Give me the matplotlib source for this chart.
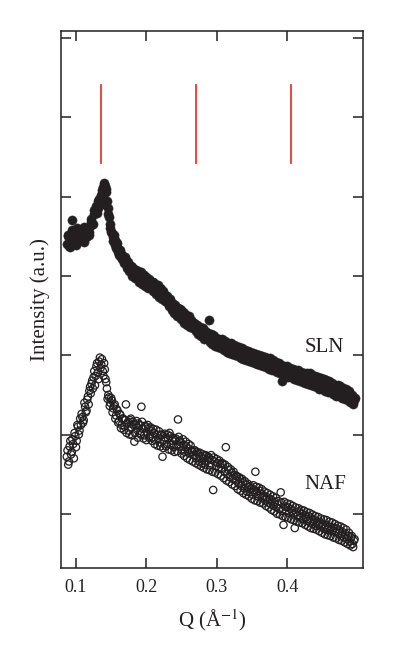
import numpy as np
import matplotlib
matplotlib.use("Agg")
import matplotlib.pyplot as plt

plt.rcParams['font.family'] = ['Liberation Serif', 'DejaVu Serif']
plt.rcParams['mathtext.fontset'] = 'stix'

# Q grid of the measurement (1/Angstrom); the second pass sits half a step over
q_start, q_step, n_points = 0.087, 0.002, 205
q = q_start + q_step * np.arange(n_points)
q_b = q + q_step / 2

# SLN intensity (filled circles)
sln = [
    4.40, 4.50, 4.36, 4.48, 4.70, 4.47, 4.55, 4.44, 4.52, 4.49,
    4.47, 4.55, 4.43, 4.53, 4.50, 4.60, 4.56, 4.68, 4.66, 4.78,
    4.79, 4.88, 4.86, 4.97, 4.94, 5.08, 5.12, 5.14, 5.06, 4.86,
    4.74, 4.60, 4.54, 4.44, 4.45, 4.35, 4.36, 4.27, 4.30, 4.22,
    4.23, 4.17, 4.20, 4.12, 4.14, 4.07, 4.11, 4.02, 4.08, 4.03,
    3.98, 4.04, 3.95, 4.00, 3.93, 3.97, 3.88, 3.95, 3.90, 3.93,
    3.86, 3.92, 3.85, 3.88, 3.80, 3.84, 3.76, 3.83, 3.78, 3.74,
    3.76, 3.70, 3.66, 3.71, 3.62, 3.66, 3.59, 3.63, 3.56, 3.60,
    3.52, 3.57, 3.48, 3.53, 3.45, 3.48, 3.42, 3.46, 3.38, 3.42,
    3.35, 3.40, 3.33, 3.36, 3.30, 3.33, 3.27, 3.31, 3.25, 3.29,
    3.22, 3.45, 3.24, 3.19, 3.25, 3.18, 3.22, 3.15, 3.20, 3.16,
    3.17, 3.12, 3.16, 3.09, 3.14, 3.10, 3.12, 3.06, 3.11, 3.07,
    3.09, 3.04, 3.08, 3.02, 3.06, 3.00, 3.05, 3.01, 3.03, 2.98,
    3.02, 2.97, 3.01, 2.95, 2.99, 2.94, 2.98, 2.93, 2.97, 2.94,
    2.96, 2.91, 2.95, 2.89, 2.93, 2.87, 2.91, 2.86, 2.90, 2.85,
    2.87, 2.82, 2.85, 2.67, 2.84, 2.79, 2.83, 2.78, 2.82, 2.77,
    2.80, 2.76, 2.79, 2.74, 2.78, 2.73, 2.77, 2.72, 2.76, 2.71,
    2.75, 2.70, 2.74, 2.68, 2.72, 2.67, 2.71, 2.65, 2.70, 2.64,
    2.68, 2.63, 2.67, 2.60, 2.65, 2.59, 2.64, 2.58, 2.62, 2.57,
    2.60, 2.55, 2.59, 2.53, 2.57, 2.51, 2.56, 2.50, 2.54, 2.49,
    2.52, 2.47, 2.49, 2.44, 2.43,
]
sln_b = [
    4.52, 4.38, 4.46, 4.58, 4.42, 4.53, 4.39, 4.60, 4.45, 4.56,
    4.58, 4.44, 4.62, 4.49, 4.57, 4.52, 4.63, 4.72, 4.65, 4.83,
    4.84, 4.80, 4.95, 4.90, 5.02, 5.04, 5.17, 5.10, 4.95, 4.78,
    4.66, 4.55, 4.49, 4.52, 4.39, 4.41, 4.30, 4.33, 4.24, 4.27,
    4.16, 4.24, 4.10, 4.18, 4.06, 4.13, 4.00, 4.09, 3.98, 4.07,
    4.06, 3.93, 4.05, 3.90, 4.01, 3.87, 3.99, 3.85, 3.96, 3.86,
    3.93, 3.81, 3.90, 3.77, 3.88, 3.73, 3.85, 3.71, 3.81, 3.68,
    3.68, 3.75, 3.62, 3.69, 3.57, 3.65, 3.53, 3.60, 3.50, 3.58,
    3.58, 3.46, 3.55, 3.41, 3.51, 3.38, 3.49, 3.35, 3.45, 3.34,
    3.41, 3.30, 3.38, 3.27, 3.36, 3.24, 3.34, 3.21, 3.31, 3.20,
    3.28, 3.17, 3.27, 3.14, 3.24, 3.12, 3.21, 3.11, 3.19, 3.09,
    3.20, 3.07, 3.18, 3.04, 3.16, 3.03, 3.15, 3.02, 3.13, 3.00,
    3.12, 2.99, 3.10, 2.97, 3.09, 2.95, 3.07, 2.94, 3.05, 2.93,
    3.04, 2.91, 3.03, 2.90, 3.02, 2.89, 3.00, 2.88, 2.99, 2.87,
    2.98, 2.85, 2.97, 2.83, 2.96, 2.82, 2.94, 2.81, 2.92, 2.79,
    2.90, 2.77, 2.88, 2.76, 2.87, 2.74, 2.86, 2.73, 2.84, 2.72,
    2.83, 2.70, 2.82, 2.69, 2.81, 2.67, 2.79, 2.66, 2.78, 2.65,
    2.78, 2.64, 2.77, 2.62, 2.75, 2.61, 2.74, 2.60, 2.72, 2.58,
    2.71, 2.57, 2.70, 2.55, 2.69, 2.54, 2.67, 2.53, 2.65, 2.51,
    2.63, 2.49, 2.62, 2.48, 2.61, 2.46, 2.59, 2.45, 2.57, 2.43,
    2.55, 2.41, 2.50, 2.39, 2.46,
]

# NAF intensity (open circles)
naf = [
    1.72, 1.62, 1.85, 1.75, 1.94, 1.70, 1.98, 1.92, 2.10, 2.05,
    2.12, 2.22, 2.18, 2.35, 2.30, 2.48, 2.55, 2.52, 2.68, 2.72,
    2.62, 2.86, 2.78, 2.92, 2.84, 2.95, 2.74, 2.82, 2.66, 2.45,
    2.47, 2.40, 2.43, 2.33, 2.38, 2.24, 2.30, 2.17, 2.25, 2.12,
    2.20, 2.10, 2.38, 2.14, 2.05, 2.18, 2.09, 2.16, 1.91, 2.12,
    2.08, 2.14, 2.02, 2.35, 2.07, 1.99, 2.10, 2.03, 2.08, 1.98,
    2.05, 1.96, 2.02, 1.93, 2.00, 1.95, 1.90, 1.99, 1.72, 1.93,
    1.96, 1.88, 1.95, 2.02, 1.87, 1.92, 1.84, 1.93, 1.86, 2.19,
    1.85, 1.90, 1.80, 1.87, 1.78, 1.85, 1.82, 1.76, 1.86, 1.78,
    1.74, 1.80, 1.70, 1.76, 1.66, 1.72, 1.64, 1.70, 1.62, 1.73,
    1.67, 1.70, 1.61, 1.68, 1.30, 1.66, 1.60, 1.64, 1.57, 1.63,
    1.58, 1.62, 1.53, 1.84, 1.50, 1.55, 1.46, 1.52, 1.44, 1.49,
    1.42, 1.47, 1.38, 1.44, 1.35, 1.40, 1.32, 1.37, 1.28, 1.34,
    1.27, 1.32, 1.24, 1.30, 1.53, 1.28, 1.22, 1.29, 1.25, 1.20,
    1.23, 1.17, 1.21, 1.14, 1.19, 1.12, 1.17, 1.10, 1.15, 1.08,
    1.12, 1.06, 1.27, 1.04, 0.86, 1.09, 1.03, 1.08, 1.01, 1.06,
    1.04, 0.99, 0.82, 1.02, 0.97, 1.03, 0.95, 1.00, 0.93, 0.98,
    0.96, 0.91, 0.97, 0.89, 0.94, 0.87, 0.92, 0.85, 0.90, 0.86,
    0.89, 0.83, 0.87, 0.81, 0.86, 0.80, 0.84, 0.79, 0.83, 0.78,
    0.82, 0.77, 0.81, 0.75, 0.79, 0.72, 0.77, 0.70, 0.75, 0.69,
    0.72, 0.65, 0.70, 0.62, 0.66,
]
naf_b = [
    1.80, 1.66, 1.92, 1.78, 1.88, 2.02, 1.84, 2.12, 2.00, 2.20,
    2.26, 2.15, 2.40, 2.28, 2.44, 2.38, 2.60, 2.64, 2.58, 2.80,
    2.74, 2.90, 2.70, 2.97, 2.88, 2.80, 2.90, 2.70, 2.58, 2.50,
    2.36, 2.46, 2.28, 2.36, 2.20, 2.32, 2.15, 2.26, 2.08, 2.20,
    2.06, 2.18, 2.02, 2.16, 2.00, 2.20, 1.99, 2.13, 2.02, 2.17,
    1.96, 2.12, 2.00, 2.16, 1.95, 2.11, 1.93, 2.12, 1.96, 2.09,
    1.92, 2.07, 1.88, 2.06, 1.86, 2.04, 1.85, 2.00, 1.83, 2.01,
    1.85, 2.00, 1.81, 1.98, 1.80, 1.96, 1.78, 1.95, 1.79, 1.97,
    1.92, 1.76, 1.94, 1.73, 1.91, 1.70, 1.88, 1.68, 1.80, 1.66,
    1.80, 1.64, 1.78, 1.62, 1.77, 1.60, 1.75, 1.58, 1.74, 1.56,
    1.72, 1.55, 1.74, 1.53, 1.71, 1.52, 1.69, 1.50, 1.67, 1.48,
    1.64, 1.45, 1.62, 1.42, 1.59, 1.40, 1.56, 1.37, 1.53, 1.35,
    1.48, 1.31, 1.46, 1.29, 1.44, 1.26, 1.41, 1.24, 1.38, 1.22,
    1.35, 1.19, 1.36, 1.17, 1.34, 1.16, 1.33, 1.14, 1.31, 1.13,
    1.28, 1.10, 1.26, 1.08, 1.24, 1.05, 1.22, 1.03, 1.20, 1.00,
    1.16, 0.99, 1.14, 0.97, 1.15, 0.96, 1.13, 0.95, 1.12, 0.93,
    1.10, 0.92, 1.08, 0.90, 1.07, 0.89, 1.05, 0.88, 1.04, 0.86,
    1.02, 0.84, 1.01, 0.82, 0.99, 0.81, 0.97, 0.80, 0.96, 0.78,
    0.94, 0.76, 0.93, 0.74, 0.92, 0.73, 0.90, 0.72, 0.89, 0.70,
    0.87, 0.69, 0.85, 0.67, 0.84, 0.66, 0.82, 0.64, 0.80, 0.62,
    0.76, 0.60, 0.72, 0.58, 0.68,
]

# lamellar peak positions marked in red
peak_q = [0.135, 0.270, 0.405]
peak_span = (5.42, 6.41)

x_ticks = [0.1, 0.2, 0.3, 0.4]
x_tick_labels = ['0.1', '0.2', '0.3', '0.4']
y_ticks = [1, 2, 3, 4, 5, 6, 7]

ink = '#231f20'

fig = plt.figure(figsize=(3.95, 6.6), dpi=100)
ax = fig.add_axes([0.1544, 0.1394, 0.7646, 0.8136])

for qq, vals in ((q, sln), (q_b, sln_b)):
    ax.scatter(qq, vals, s=44, color=ink, edgecolors=ink, linewidths=0.3, zorder=3)
for qq, vals in ((q, naf), (q_b, naf_b)):
    ax.scatter(qq, vals, s=28, facecolors='none', edgecolors=ink, linewidths=0.9, zorder=3)

for pq in peak_q:
    ax.plot([pq, pq], peak_span, color='#e63a2e', lw=1.3, zorder=2)

ax.text(0.453, 3.10, 'SLN', fontsize=15, color=ink, ha='center', va='center')
ax.text(0.454, 1.37, 'NAF', fontsize=15, color=ink, ha='center', va='center')

ax.set_xlim(0.0787, 0.508)
ax.set_ylim(0.316, 7.09)
ax.set_xticks(x_ticks)
ax.set_xticklabels(x_tick_labels)
ax.set_yticks(y_ticks)
ax.set_yticklabels([])
ax.tick_params(direction='in', length=7.5, width=1.1, color=ink,
               top=True, right=True, labelsize=13, labelcolor=ink, pad=8)
for sp in ax.spines.values():
    sp.set_linewidth(1.1)
    sp.set_color(ink)

ax.set_xlabel('Q (Å$^{-1}$)', fontsize=15, color=ink, labelpad=8)
ax.set_ylabel('Intensity (a.u.)', fontsize=15, color=ink, labelpad=0)

fig.savefig('out.png', dpi=100)
